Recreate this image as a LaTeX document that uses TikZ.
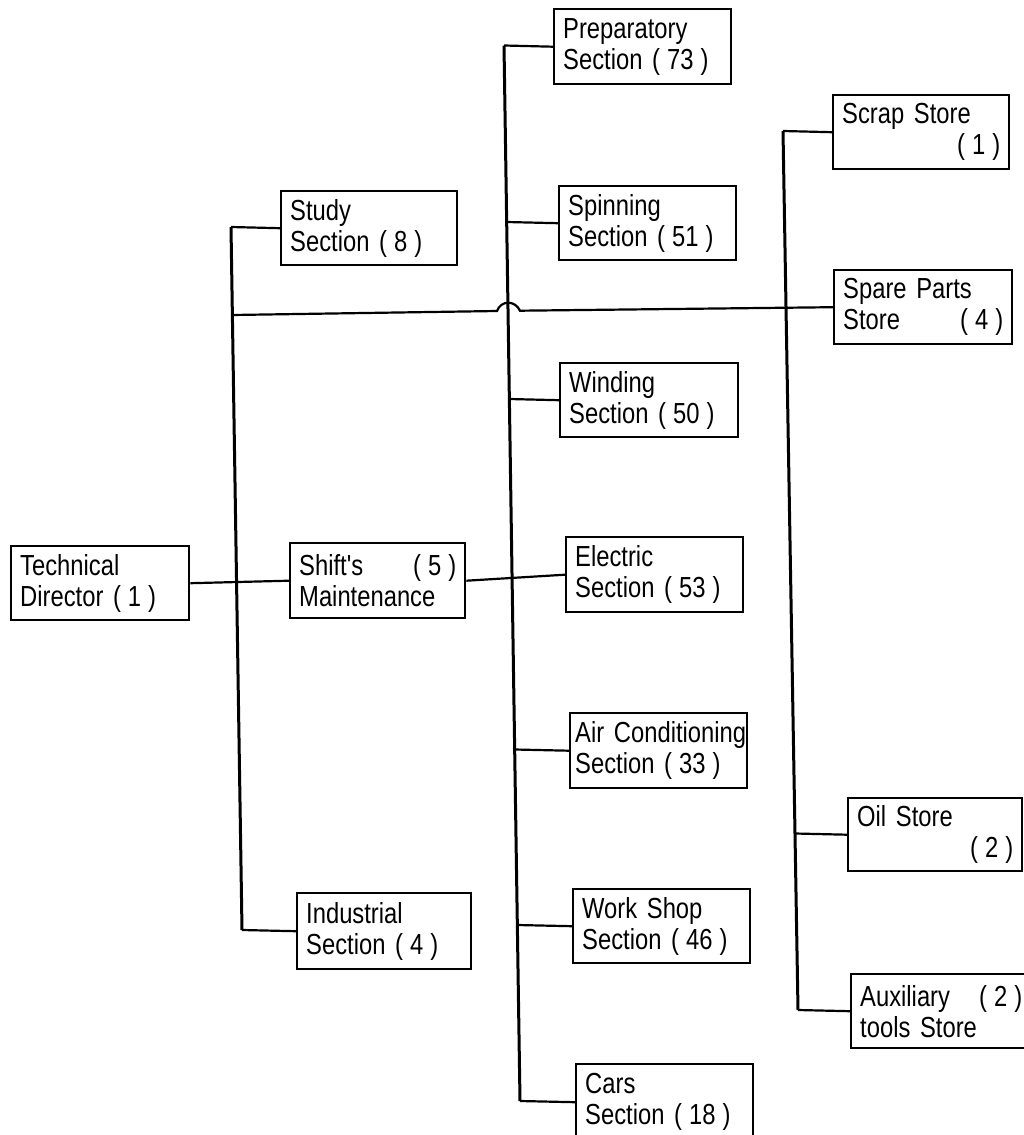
\documentclass[tikz,border=0pt]{standalone}
\usepackage{fontspec}
\newfontfamily\boxfont{Liberation Sans}[FakeStretch=0.82]
\newcommand\pn[1]{(\kern7pt#1\kern7pt)}
\newcommand\spread[1]{\makebox[\hsize][s]{#1}}
\begin{document}
\begin{tikzpicture}[x=1pt,y=-1pt,
  box/.style={draw, line width=2.4pt, anchor=north west, inner xsep=9pt, inner ysep=0pt,
    align=left, font=\boxfont\fontsize{29}{31}\selectfont},
  conn/.style={line width=2.2pt},
  trunk/.style={line width=3pt}]
\useasboundingbox (0,0) rectangle (1023,1135);

% column 1
\node[box, text width=160pt, minimum height=74pt] (td) at (10,545) {Technical\\Director \pn{1}};
% column 2
\node[box, text width=158pt, minimum height=74pt] (study) at (280,190) {Study\\Section \pn{8}};
\node[box, text width=157pt, minimum height=75pt] (shift) at (289,542) {\spread{Shift's\hfill\pn{5}}\\Maintenance};
\node[box, text width=156pt, minimum height=76pt] (ind) at (296,892) {Industrial\\Section \pn{4}};
% column 3
\node[box, text width=159pt, minimum height=75pt] (prep) at (553,8) {Preparatory\\Section \pn{73}};
\node[box, text width=159pt, minimum height=74pt] (spin) at (558,185) {Spinning\\Section \pn{51}};
\node[box, text width=160pt, minimum height=74pt] (wind) at (559,362) {Winding\\Section \pn{50}};
\node[box, text width=159pt, minimum height=75pt] (elec) at (565,536) {Electric\\Section \pn{53}};
\node[box, text width=167pt, inner xsep=5pt, minimum height=75pt] (air) at (569,712) {\mbox{Air Conditioning}\\Section \pn{33}};
\node[box, text width=159pt, minimum height=74pt] (work) at (572,888) {Work Shop\\Section \pn{46}};
\node[box, text width=159pt, minimum height=76pt] (cars) at (575,1063) {Cars\\Section \pn{18}};
% column 4
\node[box, text width=158pt, minimum height=74pt] (scrap) at (832,94) {Scrap Store\\\makebox[\hsize][r]{\pn{1}}};
\node[box, text width=160pt, minimum height=74pt] (spare) at (833,269) {Spare Parts\\\spread{Store\hfill\pn{4}}};
\node[box, text width=156pt, minimum height=73pt] (oil) at (847,797) {Oil Store\\\makebox[\hsize][r]{\pn{2}}};
\node[box, text width=162pt, minimum height=74pt] (aux) at (850,973) {\spread{Auxiliary\hfill\pn{2}}\\tools Store};

% trunk points
\coordinate (lStudy) at (231,227);
\coordinate (lSpare) at (232.3,315);
\coordinate (lInd) at (242,930);
\coordinate (mPrep) at (504,45.5);
\coordinate (mSpin) at (506.7,222);
\coordinate (mWind) at (509.4,399);
\coordinate (mAir) at (514.7,749.5);
\coordinate (mWork) at (517.4,925);
\coordinate (mCars) at (520,1101);
\coordinate (rScrap) at (783,131);
\coordinate (rOil) at (795,833.5);
\coordinate (rAux) at (798,1010);
\coordinate (bumpL) at (497,311);
\coordinate (bumpR) at (520,310.7);

% trunks
\draw[trunk] (lStudy) -- (lInd);
\draw[trunk] (mPrep) -- (mCars);
\draw[trunk] (rScrap) -- (rAux);

% connectors
\draw[conn] (lStudy) -- (study.west);
\draw[conn] (lInd) -- (ind.west);
\draw[conn] (td.east) -- (shift.west);
\draw[conn] (shift.east) -- (elec.west);
\draw[conn] (mPrep) -- (prep.west);
\draw[conn] (mSpin) -- (spin.west);
\draw[conn] (mWind) -- (wind.west);
\draw[conn] (mAir) -- (air.west);
\draw[conn] (mWork) -- (work.west);
\draw[conn] (mCars) -- (cars.west);
\draw[conn] (rScrap) -- (scrap.west);
\draw[conn] (rOil) -- (oil.west);
\draw[conn] (rAux) -- (aux.west);
\draw[conn] (lSpare) -- (bumpL) .. controls (501,300) and (515,300) .. (bumpR) -- (spare.west);
\end{tikzpicture}
\end{document}
